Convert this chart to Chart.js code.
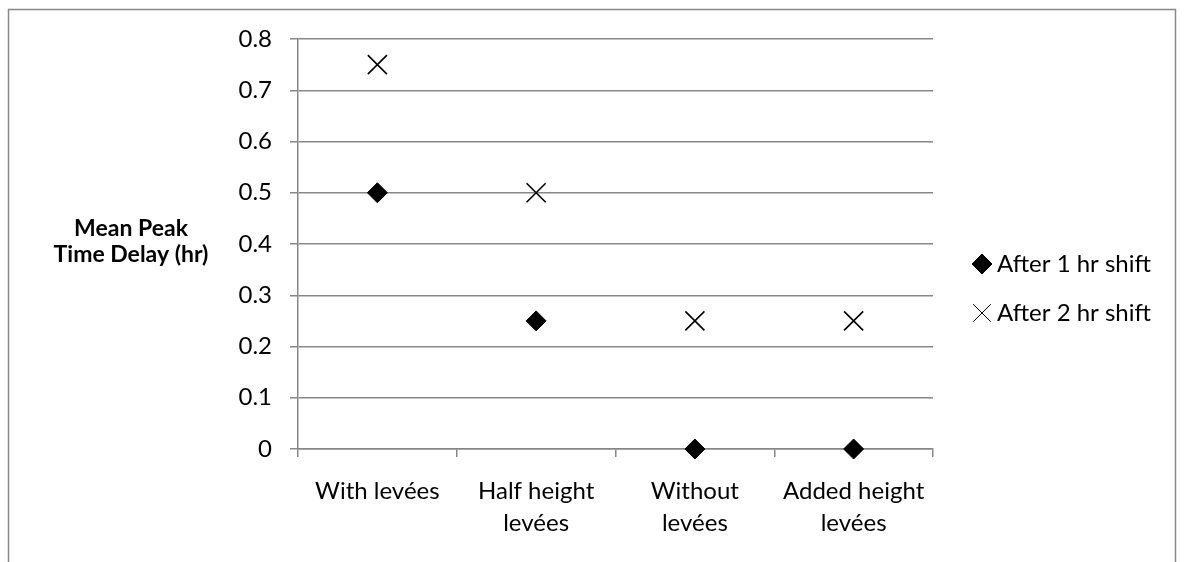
<!DOCTYPE html>
<html>
<head>
<meta charset="utf-8">
<script src="https://cdn.jsdelivr.net/npm/chart.js@4/dist/chart.umd.min.js"></script>
<style>
  html, body { margin: 0; padding: 0; background: #fff; }
  #wrap { width: 1184px; height: 562px; }
</style>
</head>
<body>
<div id="wrap"><canvas id="delayChart" width="1184" height="562"></canvas></div>
<script>
/* --- data --- */
const categories = [['With levées'], ['Half height', 'levées'], ['Without', 'levées'], ['Added height', 'levées']];
const after1hr = [0.5, 0.25, 0, 0];
const after2hr = [0.75, 0.5, 0.25, 0.25];
const seriesNames = ['After 1 hr shift', 'After 2 hr shift'];
const yTitle = ['Mean Peak', 'Time Delay (hr)'];

const FONT = 'Lato, "Open Sans", sans-serif';
const GRID = '#878787';

// frame around the whole chart (bottom edge runs off the picture)
const framePlugin = {
  id: 'frame',
  beforeDraw(chart) {
    const ctx = chart.ctx;
    ctx.save();
    ctx.fillStyle = '#fff';
    ctx.fillRect(0, 0, chart.width, chart.height);
    ctx.strokeStyle = GRID;
    ctx.lineWidth = 1.5;
    ctx.beginPath();
    ctx.moveTo(8.5, chart.height + 5);
    ctx.lineTo(8.5, 9.5);
    ctx.lineTo(1175.5, 9.5);
    ctx.lineTo(1175.5, chart.height + 5);
    ctx.stroke();
    ctx.restore();
  }
};

// horizontal y title + legend on the right
const textPlugin = {
  id: 'sideText',
  afterDraw(chart) {
    const ctx = chart.ctx;
    ctx.save();
    ctx.fillStyle = '#000';
    ctx.font = 'bold 23px ' + FONT;
    ctx.textAlign = 'center';
    ctx.textBaseline = 'middle';
    yTitle.forEach((line, i) => ctx.fillText(line, 131, 229 + i * 26));

    ctx.font = '24px ' + FONT;
    ctx.textAlign = 'left';
    chart.data.datasets.forEach((ds, i) => {
      const y = 264 + i * 49;
      ctx.strokeStyle = '#000';
      ctx.fillStyle = '#000';
      Chart.helpers.drawPoint(ctx, {
        pointStyle: ds.pointStyle,
        radius: ds.pointStyle === 'crossRot' ? 12.5 : ds.pointRadius,
        borderWidth: ds.pointBorderWidth
      }, 982, y);
      ctx.fillText(ds.label, 997, y);
    });
    ctx.restore();
  }
};

new Chart(document.getElementById('delayChart').getContext('2d'), {
  type: 'line',
  data: {
    labels: categories,
    datasets: [{
      label: seriesNames[0],
      data: after1hr,
      showLine: false,
      clip: false,
      pointStyle: 'rectRot',
      pointRadius: 10,
      pointBorderWidth: 1,
      pointBackgroundColor: '#000',
      pointBorderColor: '#000'
    }, {
      label: seriesNames[1],
      data: after2hr,
      showLine: false,
      clip: false,
      pointStyle: 'crossRot',
      pointRadius: 13.5,
      pointBorderWidth: 1.6,
      pointBackgroundColor: '#000',
      pointBorderColor: '#000'
    }]
  },
  options: {
    responsive: false,
    animation: false,
    layout: { padding: { left: 0, top: 39, right: 251, bottom: 0 } },
    plugins: {
      legend: { display: false },
      tooltip: { enabled: false }
    },
    scales: {
      x: {
        offset: true,
        grid: {
          offset: true,
          drawOnChartArea: false,
          drawTicks: true,
          tickLength: 8,
          color: GRID,
          lineWidth: 1.5
        },
        border: { color: GRID, width: 1.5 },
        ticks: {
          color: '#000',
          padding: 18,
          maxRotation: 0,
          autoSkip: false,
          font: { family: FONT, size: 24, lineHeight: 1.35 }
        },
        afterFit(scale) { scale.height = 113; }
      },
      y: {
        min: 0,
        max: 0.8,
        grid: {
          color: GRID,
          lineWidth: 1.5,
          tickLength: 8
        },
        border: { color: GRID, width: 1.5 },
        ticks: {
          stepSize: 0.1,
          color: '#000',
          padding: 18,
          font: { family: FONT, size: 24 },
          callback: v => Math.round(v * 10) / 10
        },
        afterFit(scale) { scale.width = 298; }
      }
    }
  },
  plugins: [framePlugin, textPlugin]
});
</script>
</body>
</html>
